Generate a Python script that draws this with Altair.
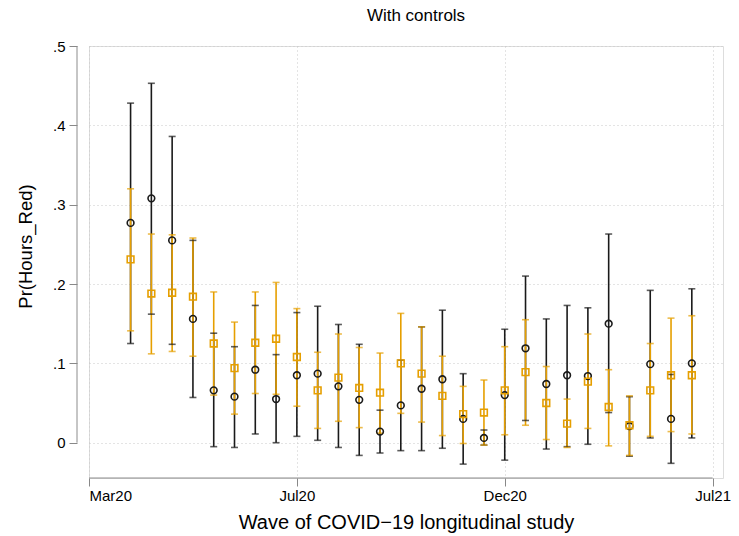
import altair as alt
import pandas as pd

# Survey waves on the x axis and the tick labels shown for them
wave = list(range(2, 30))
x_tick_pos = [0, 10, 20, 30]
x_tick_labels = ["Mar20", "Jul20", "Dec20", "Jul21"]
y_tick_pos = [0, 0.1, 0.2, 0.3, 0.4, 0.5]
y_tick_labels = ["0", ".1", ".2", ".3", ".4", ".5"]

# First group: predicted probability with 95% interval (black circles)
est1 = [0.277, 0.308, 0.255, 0.156, 0.066, 0.058, 0.092, 0.055, 0.085, 0.087,
        0.071, 0.054, 0.014, 0.047, 0.068, 0.080, 0.030, 0.006, 0.060, 0.119,
        0.074, 0.085, 0.084, 0.150, 0.021, 0.099, 0.030, 0.100]
lo1 = [0.125, 0.162, 0.124, 0.057, -0.005, -0.006, 0.011, 0.000, 0.008, 0.003,
       -0.006, -0.016, -0.013, -0.010, -0.010, -0.007, -0.027, -0.003, -0.022, 0.028,
       -0.008, -0.005, -0.002, 0.038, -0.017, 0.006, -0.026, 0.006]
hi1 = [0.428, 0.453, 0.386, 0.255, 0.138, 0.121, 0.173, 0.111, 0.164, 0.172,
       0.149, 0.124, 0.041, 0.104, 0.146, 0.167, 0.087, 0.016, 0.143, 0.210,
       0.156, 0.173, 0.170, 0.263, 0.058, 0.192, 0.086, 0.194]

# Second group: predicted probability with 95% interval (orange squares)
est2 = [0.231, 0.188, 0.189, 0.184, 0.125, 0.094, 0.126, 0.131, 0.108, 0.066,
        0.082, 0.069, 0.063, 0.100, 0.087, 0.059, 0.036, 0.038, 0.066, 0.089,
        0.050, 0.024, 0.077, 0.045, 0.022, 0.066, 0.085, 0.085]
lo2 = [0.141, 0.112, 0.115, 0.109, 0.060, 0.036, 0.062, 0.061, 0.046, 0.018,
       0.027, 0.019, 0.012, 0.037, 0.026, 0.009, -0.001, -0.003, 0.010, 0.022,
       0.004, -0.006, 0.018, -0.004, -0.016, 0.008, 0.014, 0.011]
hi2 = [0.320, 0.263, 0.262, 0.258, 0.190, 0.152, 0.190, 0.202, 0.169, 0.114,
       0.137, 0.120, 0.113, 0.163, 0.146, 0.109, 0.071, 0.079, 0.121, 0.155,
       0.096, 0.055, 0.137, 0.092, 0.059, 0.125, 0.157, 0.160]

series_names = ["g1", "g2"]
series_colors = ["#1a1a1a", "#E69F00"]
series_shapes = ["circle", "square"]

rows = []
for name, est, lo, hi in ((series_names[0], est1, lo1, hi1),
                          (series_names[1], est2, lo2, hi2)):
    for w, e, l, h in zip(wave, est, lo, hi):
        rows.append({"wave": w, "series": name, "est": e, "lo": l, "hi": h})
df = pd.DataFrame(rows)

W, H = 634, 432
FONT = "Liberation Sans"
GRID = dict(grid=True, gridColor="#c8c8c8", gridDash=[1, 3], gridWidth=1)


def label_expr(values, labels):
    expr = "''"
    for v, lab in reversed(list(zip(values, labels))):
        expr = f"abs(datum.value - {v}) < 1e-6 ? '{lab}' : ({expr})"
    return expr


x_scale = alt.Scale(domain=[0, 30.5], nice=False, zero=False)
y_scale = alt.Scale(domain=[-0.0445, 0.5], nice=False, zero=False)

x_axis = alt.Axis(
    values=x_tick_pos, labelExpr=label_expr(x_tick_pos, x_tick_labels),
    title="Wave of COVID\u221219 longitudinal study", domain=False,
    tickSize=8, labelPadding=2, labelFontSize=15, titleFontSize=20,
    titleFontWeight="normal", titleBaseline="alphabetic", titleY=50,
    **GRID,
)
y_axis = alt.Axis(
    values=y_tick_pos, labelExpr=label_expr(y_tick_pos, y_tick_labels),
    title="Pr(Hours_Red)", domain=False, offset=12,
    tickSize=8, labelPadding=4, labelFontSize=15, titleFontSize=18.5,
    titleFontWeight="normal", titleAngle=-90, titleBaseline="alphabetic",
    titleAlign="center", titleX=-46, titleY=200,
    **GRID,
)

color = alt.Color("series:N", scale=alt.Scale(domain=series_names, range=series_colors), legend=None)
shape = alt.Shape("series:N", scale=alt.Scale(domain=series_names, range=series_shapes), legend=None)

base = alt.Chart(df)

bars = base.mark_rule(strokeWidth=1.6).encode(
    x=alt.X("wave:Q", scale=x_scale, axis=x_axis),
    y=alt.Y("lo:Q", scale=y_scale, axis=y_axis),
    y2="hi:Q",
    color=color,
)
cap_lo = base.mark_tick(orient="horizontal", size=7, thickness=1.6).encode(
    x=alt.X("wave:Q", scale=x_scale, axis=x_axis),
    y=alt.Y("lo:Q", scale=y_scale, axis=y_axis),
    color=color,
)
cap_hi = base.mark_tick(orient="horizontal", size=7, thickness=1.6).encode(
    x=alt.X("wave:Q", scale=x_scale, axis=x_axis),
    y=alt.Y("hi:Q", scale=y_scale, axis=y_axis),
    color=color,
)
points = base.mark_point(filled=False, strokeWidth=1.6, size=45, opacity=1).encode(
    x=alt.X("wave:Q", scale=x_scale, axis=x_axis),
    y=alt.Y("est:Q", scale=y_scale, axis=y_axis),
    color=color,
    shape=shape,
)

# Axis lines spanning only the labelled range
x_line = alt.Chart(pd.DataFrame({"a": [x_tick_pos[0]], "b": [x_tick_pos[-1]]})).mark_rule(
    color="#8c8c8c", strokeWidth=1
).encode(
    x=alt.X("a:Q", scale=x_scale, axis=x_axis), x2="b:Q", y=alt.value(H)
)
y_line = alt.Chart(pd.DataFrame({"a": [y_tick_pos[0]], "b": [y_tick_pos[-1]]})).mark_rule(
    color="#8c8c8c", strokeWidth=1
).encode(
    y=alt.Y("a:Q", scale=y_scale, axis=y_axis), y2="b:Q", x=alt.value(-12)
)

chart = alt.layer(x_line, y_line, bars, cap_lo, cap_hi, points).properties(
    width=W, height=H,
    title=alt.TitleParams("With controls", fontSize=17, font=FONT, fontWeight="normal",
                          color="black", anchor="middle", dx=10, offset=14),
    autosize=alt.AutoSizeParams(type="none"),
    padding={"left": 89, "top": 46, "right": 16, "bottom": 58},
).configure_view(stroke=None).configure_axis(
    labelFont=FONT, titleFont=FONT, labelColor="black", titleColor="black",
    titleFontWeight="normal", tickColor="#8c8c8c", tickWidth=1,
).configure(background="white")

chart.save("out.html", embed_options={"renderer": "svg", "actions": False})
